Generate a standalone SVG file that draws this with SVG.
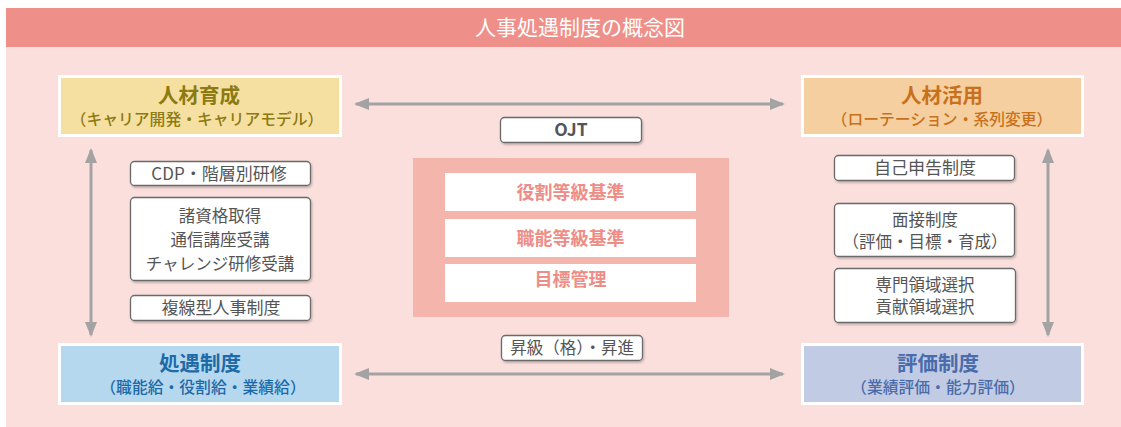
<svg xmlns="http://www.w3.org/2000/svg" width="1121" height="427" viewBox="0 0 1121 427">
<style>
text{font-family:"Noto Sans CJK JP","Noto Sans",sans-serif;text-anchor:middle}
.ttl{font-size:21px;fill:#ffffff}
.nh{font-size:20.5px;font-weight:700}
.ns{font-size:15.8px;font-weight:500}
.sb{fill:#ffffff;stroke:#6a6a6a;stroke-width:1.3}
.st{font-size:17px;fill:#555555}
.st2{font-size:16.5px;fill:#555555}
.ct{font-size:18px;font-weight:700;fill:#ee8d86}
.arr{stroke:#a3a3a3;stroke-width:3;fill:none}
.frame{stroke:#ffffff;stroke-width:3}
</style>
<defs>
<marker id="ah" viewBox="0 0 15 12" refX="13" refY="6" markerWidth="15" markerHeight="12" markerUnits="userSpaceOnUse" orient="auto-start-reverse">
<path d="M0,0 L15,6 L0,12 Z" fill="#a3a3a3"/>
</marker>
<filter id="sh" x="-10%" y="-20%" width="120%" height="150%">
<feDropShadow dx="1" dy="1.5" stdDeviation="1" flood-color="#000000" flood-opacity="0.25"/>
</filter>
</defs>
<rect x="6" y="8" width="1115" height="419" fill="#fbdfdc"/>
<rect x="6" y="8" width="1115" height="39" fill="#ef8f89"/>
<text class="ttl" x="580" y="35">人事処遇制度の概念図</text>

<g id="connectors">
<line class="arr" x1="356" y1="104" x2="783" y2="104" marker-start="url(#ah)" marker-end="url(#ah)"/>
<line class="arr" x1="356" y1="374" x2="783" y2="374" marker-start="url(#ah)" marker-end="url(#ah)"/>
<line class="arr" x1="91" y1="150" x2="91" y2="335" marker-start="url(#ah)" marker-end="url(#ah)"/>
<line class="arr" x1="1048" y1="150" x2="1048" y2="335" marker-start="url(#ah)" marker-end="url(#ah)"/>
</g>

<g id="jinzai-ikusei">
<rect class="frame" x="59.5" y="76.5" width="281" height="59" fill="#f5e0a1"/>
<text class="nh" x="199" y="103" fill="#8c7a12">人材育成</text>
<text class="ns" x="197" y="125" fill="#8c7a12">（キャリア開発・キャリアモデル）</text>
</g>

<g id="jinzai-katsuyo">
<rect class="frame" x="802.5" y="76.5" width="280" height="59" fill="#f5cf9f"/>
<text class="nh" x="942" y="103" fill="#c8711d">人材活用</text>
<text class="ns" x="942" y="125" fill="#c8711d">（ローテーション・系列変更）</text>
</g>

<g id="shogu-seido">
<rect class="frame" x="59.5" y="344.5" width="281" height="59" fill="#b5d8ef"/>
<text class="nh" x="200" y="371" fill="#1d6aa8">処遇制度</text>
<text class="ns" x="203" y="393" fill="#1d6aa8">（職能給・役割給・業績給）</text>
</g>

<g id="hyoka-seido">
<rect class="frame" x="802.5" y="344.5" width="280" height="59" fill="#c1cbe3"/>
<text class="nh" x="938" y="371" fill="#4a6cab">評価制度</text>
<text class="ns" x="938" y="393" fill="#4a6cab">（業績評価・能力評価）</text>
</g>

<g id="cdp">
<rect class="sb" x="130.5" y="161.5" width="180" height="24" rx="4" filter="url(#sh)"/>
<text class="st" x="219" y="180">CDP・階層別研修</text>
</g>
<g id="shikaku">
<rect class="sb" x="130.5" y="197.5" width="180" height="83" rx="4" filter="url(#sh)"/>
<text class="st2" x="220" y="222">諸資格取得</text>
<text class="st2" x="220" y="246">通信講座受講</text>
<text class="st2" x="220" y="270">チャレンジ研修受講</text>
</g>
<g id="fukusen">
<rect class="sb" x="130.5" y="295.5" width="180" height="25" rx="4" filter="url(#sh)"/>
<text class="st" x="221" y="314">複線型人事制度</text>
</g>

<g id="jiko-shinkoku">
<rect class="sb" x="834.5" y="155.5" width="180" height="25" rx="4" filter="url(#sh)"/>
<text class="st" x="925" y="174">自己申告制度</text>
</g>
<g id="mensetsu">
<rect class="sb" x="834.5" y="203.5" width="180" height="53" rx="4" filter="url(#sh)"/>
<text class="st2" x="925" y="226">面接制度</text>
<text class="st2" x="925" y="248">（評価・目標・育成）</text>
</g>
<g id="senmon">
<rect class="sb" x="834.5" y="268.5" width="181" height="54" rx="4" filter="url(#sh)"/>
<text class="st2" x="925" y="291">専門領域選択</text>
<text class="st2" x="925" y="313">貢献領域選択</text>
</g>

<g id="ojt">
<rect class="sb" x="500.5" y="117.5" width="141" height="25" rx="4" filter="url(#sh)"/>
<text class="st" x="571" y="136" style="font-weight:700;font-size:17.5px">OJT</text>
</g>
<g id="shokyu">
<rect class="sb" x="501.5" y="335.5" width="141" height="25" rx="4" filter="url(#sh)"/>
<text class="st2" x="572" y="354">昇級（格）・昇進</text>
</g>

<g id="kijun">
<rect x="413" y="158" width="316" height="159" fill="#f4b5ad"/>
<rect x="445" y="173" width="251" height="38" fill="#ffffff"/>
<text class="ct" x="570.5" y="199">役割等級基準</text>
<rect x="445" y="219" width="251" height="38" fill="#ffffff"/>
<text class="ct" x="570.5" y="245">職能等級基準</text>
<rect x="445" y="264" width="251" height="38" fill="#ffffff"/>
<text class="ct" x="570.5" y="286">目標管理</text>
</g>
</svg>
